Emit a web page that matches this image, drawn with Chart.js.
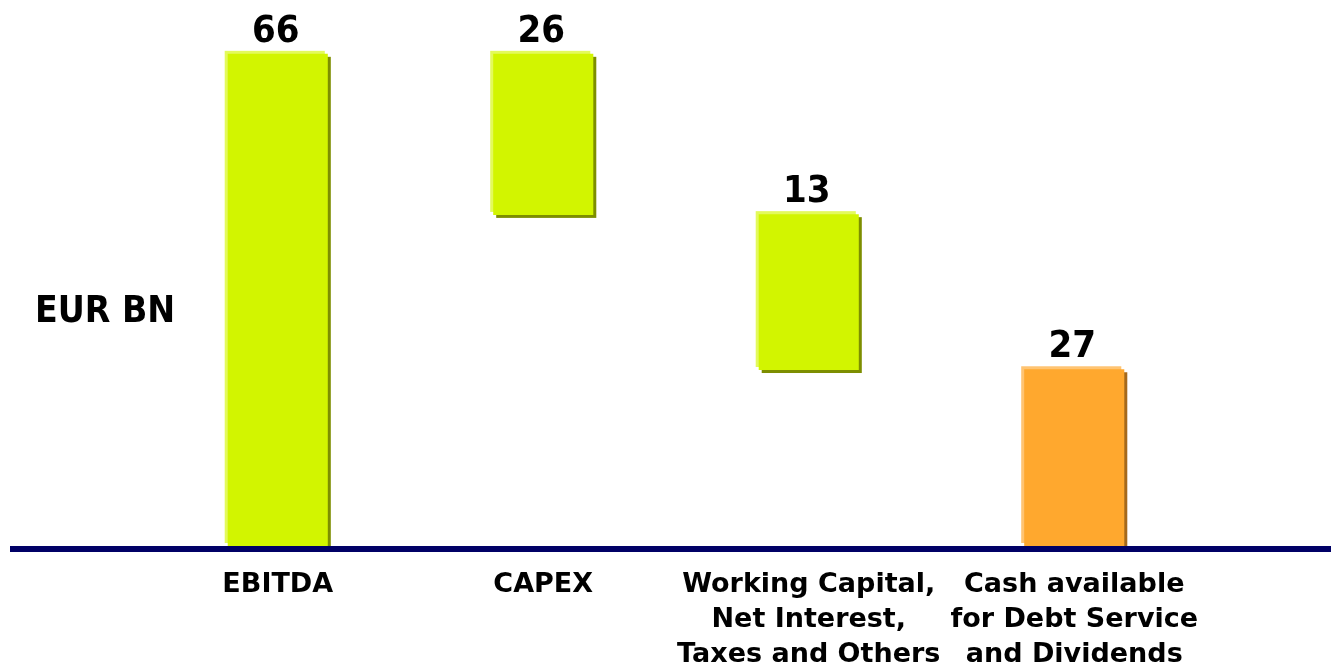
<!DOCTYPE html>
<html>
<head>
<meta charset="utf-8">
<title>Cash flow waterfall</title>
<script src="https://cdn.jsdelivr.net/npm/chart.js@4.4.0/dist/chart.umd.min.js"></script>
<style>
  html, body { margin: 0; padding: 0; background: #ffffff; }
  #wrap { width: 1331px; height: 665px; position: relative; }
</style>
</head>
<body>
<div id="wrap"><canvas id="flowChart" width="1331" height="665"></canvas></div>
<script>
const categories = [
  ["EBITDA"],
  ["CAPEX"],
  ["Working Capital,", "Net Interest,", "Taxes and Others"],
  ["Cash available", "for Debt Service", "and Dividends"]
];
// bar ranges as drawn in the picture (EUR BN scale)
const barStart = [0, 44.4, 23.6, 0];
const barEnd = [66, 66, 44.5, 23.7];
// printed values above bars
const valueLabels = [66, 26, 13, 27];

const mainColors = ["#d2f500", "#d2f500", "#d2f500", "#ffa82e"];
const lightColors = ["#e3fa5c", "#e3fa5c", "#e3fa5c", "#ffc472"];
const darkColors = ["#7d8e00", "#7d8e00", "#7d8e00", "#a5691c"];

const CONDENSED = "'DejaVu Sans Condensed', 'DejaVu Sans', sans-serif";
const WIDE = "'DejaVu Sans', sans-serif";

// light edge top-left, dark shadow bottom-right
const bevelPlugin = {
  id: "bevel",
  beforeDatasetsDraw(chart) {
    const ctx = chart.ctx;
    const meta = chart.getDatasetMeta(0);
    ctx.save();
    meta.data.forEach((bar, i) => {
      const left = bar.x - bar.width / 2;
      const top = Math.min(bar.y, bar.base);
      const h = Math.abs(bar.base - bar.y);
      ctx.fillStyle = darkColors[i];
      ctx.fillRect(left + 3, top + 3, bar.width, h);
      ctx.fillStyle = lightColors[i];
      ctx.fillRect(left - 3, top - 3, bar.width, h);
    });
    ctx.restore();
  }
};

const labelPlugin = {
  id: "labels",
  afterDatasetsDraw(chart) {
    const ctx = chart.ctx;
    const meta = chart.getDatasetMeta(0);
    const y0 = chart.scales.y.getPixelForValue(0);

    // baseline across the page
    ctx.save();
    ctx.fillStyle = "#000066";
    ctx.fillRect(10, y0, chart.width - 10, 6);

    ctx.fillStyle = "#000000";
    ctx.textAlign = "center";
    ctx.textBaseline = "alphabetic";

    // values above bars
    ctx.font = "bold 38px " + CONDENSED;
    meta.data.forEach((bar, i) => {
      ctx.fillText(String(valueLabels[i]), bar.x - 2, Math.min(bar.y, bar.base) - 12);
    });

    // category names
    ctx.font = "bold 27px " + WIDE;
    categories.forEach((lines, i) => {
      const x = chart.scales.x.getPixelForValue(i);
      lines.forEach((line, j) => {
        ctx.fillText(line, x, y0 + 46 + j * 35);
      });
    });

    // unit label
    ctx.textAlign = "left";
    ctx.font = "bold 37px " + CONDENSED;
    ctx.fillText("EUR BN", 35, 322);
    ctx.restore();
  }
};

new Chart(document.getElementById("flowChart"), {
  type: "bar",
  data: {
    labels: categories.map(c => c.join(" ")),
    datasets: [{
      data: barStart.map((s, i) => [s, barEnd[i]]),
      backgroundColor: mainColors,
      borderWidth: 0,
      categoryPercentage: 1,
      barPercentage: 0.377
    }]
  },
  options: {
    responsive: false,
    animation: false,
    devicePixelRatio: 1,
    layout: { padding: { top: 24, bottom: 119, left: 145, right: 124 } },
    plugins: {
      legend: { display: false },
      tooltip: { enabled: false }
    },
    scales: {
      x: { display: false },
      y: { display: false, min: 0, max: 70 }
    }
  },
  plugins: [bevelPlugin, labelPlugin]
});
</script>
</body>
</html>
